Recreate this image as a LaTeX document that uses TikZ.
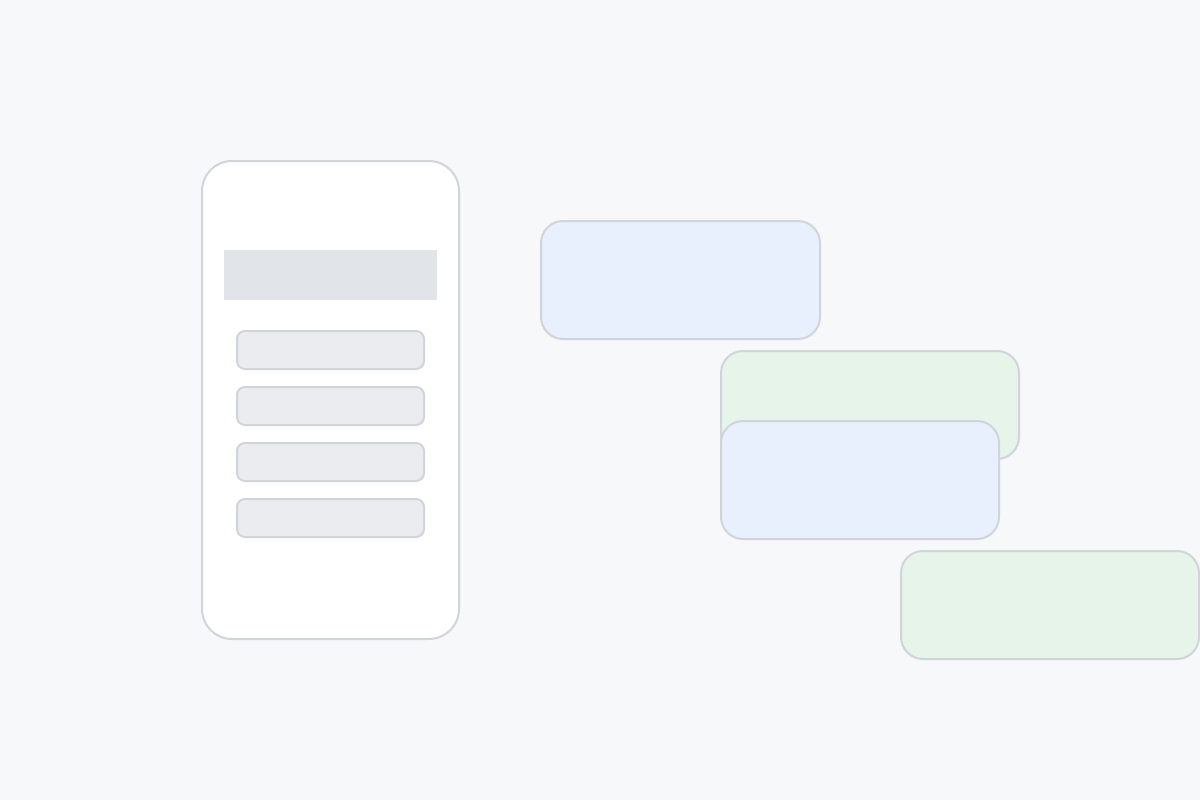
\documentclass[tikz,border=0pt]{standalone}
\definecolor{bgpage}{HTML}{F7F8FA}
\definecolor{edgegray}{HTML}{D1D5DB}
\definecolor{barfill}{HTML}{E1E4E8}
\definecolor{btnfill}{HTML}{EAECF0}
\definecolor{bluefill}{HTML}{E8F0FE}
\definecolor{greenfill}{HTML}{E6F4EA}
\tikzset{
  phone/.style={draw=edgegray, fill=white, line width=2pt, rounded corners=30pt},
  btn/.style={draw=edgegray, fill=btnfill, line width=2pt, rounded corners=8pt},
  bubble/.style={draw=edgegray, fill=#1, line width=2pt, rounded corners=22pt}
}
\begin{document}
\begin{tikzpicture}[x=1pt, y=-1pt]
        % Page background
        \fill[bgpage] (0,0) rectangle (1200,800);
        \useasboundingbox (0,0) rectangle (1200,800);

        % Phone frame
        \draw[phone] (202,161) rectangle (459,639);

        % Header bar
        \fill[barfill] (224,250) rectangle (437,300);

        % Menu buttons
        \foreach \y in {331,387,443,499}
          \draw[btn] (237,\y) rectangle (424,\y+38);

        % Chat bubbles
        \draw[bubble=bluefill] (541,221) rectangle (820,339);
        \draw[bubble=greenfill] (721,351) rectangle (1019,459);
        \draw[bubble=bluefill] (721,421) rectangle (999,539);
        \draw[bubble=greenfill] (901,551) rectangle (1199,659);
      \end{tikzpicture}
\end{document}
